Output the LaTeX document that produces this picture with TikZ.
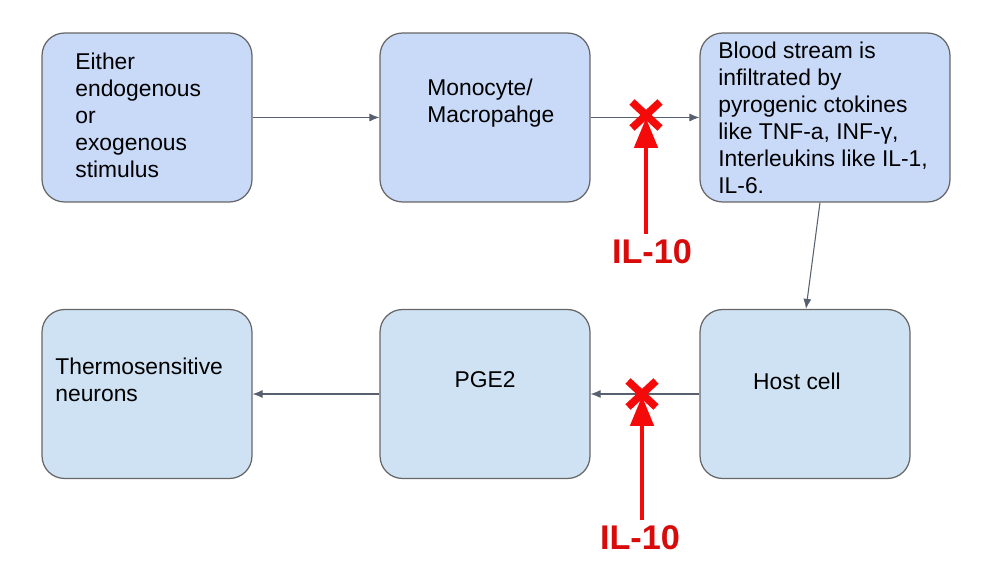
\documentclass[tikz,border=0pt]{standalone}
\usepackage{fontspec}
\setmainfont{Liberation Sans}
\usetikzlibrary{arrows.meta}
\definecolor{topfill}{HTML}{C9DAF8}
\definecolor{botfill}{HTML}{CFE2F3}
\definecolor{boxline}{HTML}{666666}
\definecolor{flowline}{HTML}{56606E}
\definecolor{blockred}{HTML}{F50A0A}
\definecolor{labelred}{HTML}{D80A0A}
\tikzset{
  box/.style={draw=boxline, line width=0.7pt, rounded corners=0.45cm,
    minimum width=4.2cm, minimum height=3.38cm},
  txt/.style={inner sep=0pt, align=left, font=\fontsize{13}{15.4}\selectfont},
  flow/.style={draw=flowline, line width=0.6pt, -{Latex[length=0.2cm,width=0.16cm]}},
  cross/.style={draw=blockred, line width=4.3pt},
  ilarrow/.style={draw=blockred, line width=2.8pt, -{Triangle[length=0.6cm,width=0.46cm]}},
  iltxt/.style={inner sep=0pt, text=labelred, font=\fontsize{19.5}{22}\selectfont\bfseries}
}
\begin{document}
\begin{tikzpicture}[x=0.02cm, y=-0.02cm]
\useasboundingbox (0,0) rectangle (986,573);
% top row
\node[box, fill=topfill] (stimulus) at (147,117.5) {};
\node[box, fill=topfill] (monocyte) at (485,117.5) {};
\node[box, fill=topfill, minimum width=5cm] (blood) at (825,117.5) {};
\node[txt, anchor=west] (stimulus text) at (75,115) {Either\\endogenous\\or\\exogenous\\stimulus};
\node[txt, anchor=west] (monocyte text) at (427,103) {Monocyte/\\Macropahge};
\node[txt, anchor=west] (blood text) at (718,118) {Blood stream is\\infiltrated by\\pyrogenic ctokines\\like TNF-a, INF-γ,\\Interleukins like IL-1,\\IL-6.};
% bottom row
\node[box, fill=botfill] (thermo) at (147,394) {};
\node[box, fill=botfill] (pge) at (485,394) {};
\node[box, fill=botfill] (host) at (805,394) {};
\node[txt, anchor=west] (thermo text) at (55,380) {Thermosensitive\\neurons};
\node[txt] (pge text) at (485,380) {PGE2};
\node[txt] (host text) at (797,381) {Host cell};
% connectors
\draw[flow] (stimulus.east) -- (monocyte.west);
\draw[flow] (monocyte.east) -- (blood.west);
\draw[flow] ([xshift=-0.1cm]blood.south) -- ([xshift=0.02cm]host.north);
\draw[flow] (host.west) -- (pge.west -| pge.east);
\draw[flow] (pge.west) -- (thermo.east);
% IL-10 blocks
\coordinate (block1) at (646,115);
\coordinate (block2) at (642,394);
\draw[cross] ([shift={(-14,-13)}]block1) -- ([shift={(14,13)}]block1)
             ([shift={(-14,13)}]block1) -- ([shift={(14,-13)}]block1);
\draw[cross] ([shift={(-14,-13)}]block2) -- ([shift={(14,13)}]block2)
             ([shift={(-14,13)}]block2) -- ([shift={(14,-13)}]block2);
\node[iltxt] (il10 top) at (652,252) {IL-10};
\node[iltxt] (il10 bottom) at (640,538) {IL-10};
\draw[ilarrow] ([yshift=0.12cm]il10 top.north -| block1) -- ([yshift=-0.06cm]block1);
\draw[ilarrow] ([yshift=0.12cm]il10 bottom.north -| block2) -- ([yshift=-0.04cm]block2);
\end{tikzpicture}
\end{document}
